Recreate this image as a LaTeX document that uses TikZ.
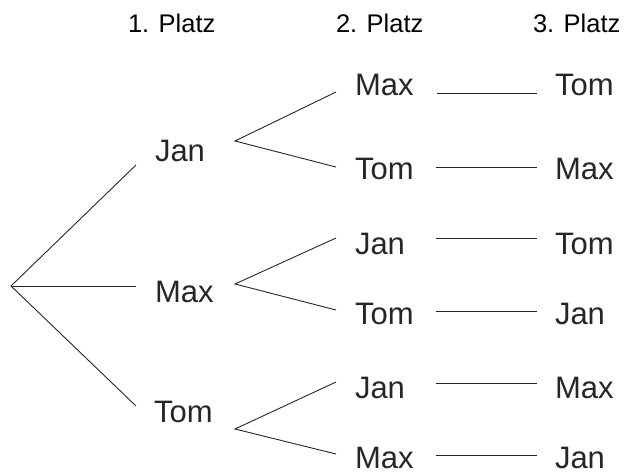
\documentclass[tikz,border=0pt]{standalone}
\usepackage{fontspec}
\setmainfont{Liberation Sans}
\begin{document}
\begin{tikzpicture}[x=1pt,y=-1pt,
  headtxt/.style={anchor=base west,inner sep=0pt,outer sep=0pt,
    font=\fontsize{25.5}{30}\selectfont},
  persontxt/.style={anchor=base west,inner sep=0pt,outer sep=0pt,text=black!85,
    font=\fontsize{31}{36}\selectfont},
  branch/.style={draw=black!85,line width=0.9pt}]
\useasboundingbox (0,0) rectangle (627,473);

% column headings
\node[headtxt] (h1) at (128,33) {1. Platz};
\node[headtxt] (h2) at (336,33) {2. Platz};
\node[headtxt] (h3) at (533,33) {3. Platz};

% first place
\node[persontxt] (a1) at (155,162) {Jan};
\node[persontxt] (a2) at (155,302) {Max};
\node[persontxt] (a3) at (154,422) {Tom};

% second place
\node[persontxt] (b1) at (355,96)  {Max};
\node[persontxt] (b2) at (355,180) {Tom};
\node[persontxt] (b3) at (355,255) {Jan};
\node[persontxt] (b4) at (355,325) {Tom};
\node[persontxt] (b5) at (355,398) {Jan};
\node[persontxt] (b6) at (355,468) {Max};

% third place
\node[persontxt] (c1) at (555,96)  {Tom};
\node[persontxt] (c2) at (555,180) {Max};
\node[persontxt] (c3) at (555,255) {Tom};
\node[persontxt] (c4) at (555,325) {Jan};
\node[persontxt] (c5) at (555,398) {Max};
\node[persontxt] (c6) at (555,468) {Jan};

% branch points and line ends
\coordinate (root) at (11,286);
\coordinate (r1) at (136,165);
\coordinate (r2) at (136,286);
\coordinate (r3) at (136,406);

\coordinate (p1) at (235,141);
\coordinate (p2) at (235,284);
\coordinate (p3) at (235,429);

\coordinate (q1) at (336,92);
\coordinate (q2) at (336,167);
\coordinate (q3) at (336,238);
\coordinate (q4) at (336,310);
\coordinate (q5) at (336,382);
\coordinate (q6) at (336,454);

\coordinate (s1) at (437,93);   \coordinate (t1) at (537,93);
\coordinate (s2) at (436,167);  \coordinate (t2) at (537,167);
\coordinate (s3) at (436,238);  \coordinate (t3) at (537,238);
\coordinate (s4) at (436,311);  \coordinate (t4) at (537,311);
\coordinate (s5) at (436,383);  \coordinate (t5) at (537,383);
\coordinate (s6) at (436,455);  \coordinate (t6) at (537,455);

% first level
\draw[branch] (r1) -- (root) -- (r3);
\draw[branch] (root) -- (r2);

% second level
\draw[branch] (q1) -- (p1) -- (q2);
\draw[branch] (q3) -- (p2) -- (q4);
\draw[branch] (q5) -- (p3) -- (q6);

% third level
\foreach \i in {1,...,6}
  \draw[branch] (s\i) -- (t\i);
\end{tikzpicture}
\end{document}
